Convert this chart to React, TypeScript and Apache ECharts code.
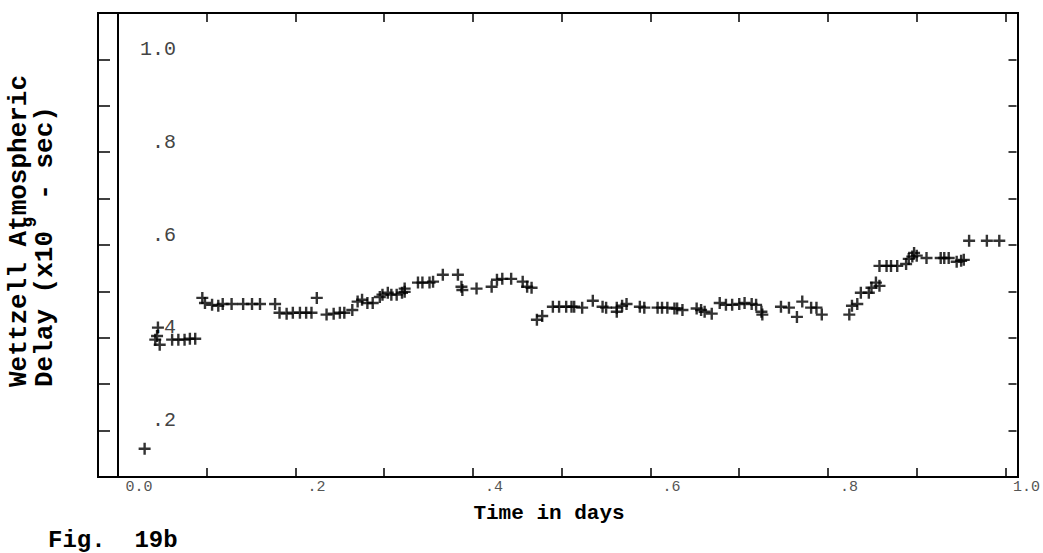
import React, { useEffect, useRef } from "react";
import * as echarts from "echarts";

// Time in days (x) and Wettzell atmospheric delay (x10^-9 sec) (y)
const timeDays = [
  0.030,
  0.042, 0.044, 0.045, 0.047,
  0.061, 0.068, 0.075, 0.081, 0.087,
  0.095, 0.098, 0.106, 0.113, 0.118, 0.128, 0.141, 0.151, 0.160, 0.177,
  0.182, 0.190, 0.197, 0.205, 0.212, 0.218,
  0.224,
  0.235, 0.243, 0.250, 0.255, 0.264,
  0.270, 0.275, 0.281, 0.287, 0.295, 0.298, 0.304, 0.308, 0.314, 0.320, 0.323, 0.323,
  0.338, 0.343, 0.351, 0.355, 0.366, 0.383, 0.387, 0.388, 0.404, 0.421, 0.427, 0.433, 0.443, 0.456, 0.461, 0.466,
  0.472, 0.478, 0.490, 0.497, 0.505, 0.511, 0.514, 0.523, 0.535, 0.546, 0.550, 0.562, 0.562, 0.568, 0.573,
  0.588, 0.593, 0.608, 0.613, 0.619, 0.627, 0.630, 0.636, 0.652, 0.657, 0.661, 0.669,
  0.678, 0.685, 0.692, 0.700, 0.706, 0.714, 0.719, 0.725, 0.726,
  0.747, 0.756, 0.765, 0.771, 0.781, 0.787, 0.793,
  0.824, 0.827, 0.833, 0.837, 0.846, 0.849, 0.854, 0.858, 0.858, 0.866, 0.871, 0.878,
  0.888, 0.891, 0.895, 0.897, 0.900, 0.911, 0.927, 0.931, 0.936, 0.945, 0.950, 0.953,
  0.959, 0.979, 0.993,
];
const delay = [
  0.161,
  0.396, 0.404, 0.422, 0.385,
  0.396, 0.396, 0.396, 0.398, 0.398,
  0.486, 0.475, 0.471, 0.469, 0.473, 0.473, 0.473, 0.473, 0.473, 0.473,
  0.454, 0.452, 0.454, 0.454, 0.454, 0.454,
  0.486,
  0.450, 0.452, 0.454, 0.454, 0.460,
  0.478, 0.482, 0.475, 0.475, 0.488, 0.493, 0.497, 0.493, 0.493, 0.497, 0.499, 0.506,
  0.519, 0.519, 0.519, 0.521, 0.536, 0.536, 0.510, 0.503, 0.506, 0.510, 0.525, 0.527, 0.527, 0.521, 0.510, 0.508,
  0.439, 0.447, 0.467, 0.467, 0.467, 0.467, 0.467, 0.465, 0.480, 0.467, 0.465, 0.465, 0.456, 0.469, 0.473,
  0.467, 0.465, 0.465, 0.465, 0.465, 0.463, 0.463, 0.460, 0.463, 0.460, 0.456, 0.452,
  0.475, 0.471, 0.471, 0.473, 0.475, 0.473, 0.471, 0.456, 0.450,
  0.467, 0.465, 0.445, 0.478, 0.465, 0.465, 0.450,
  0.450, 0.469, 0.473, 0.497, 0.497, 0.508, 0.519, 0.512, 0.555, 0.555, 0.555, 0.555,
  0.559, 0.570, 0.575, 0.583, 0.577, 0.572, 0.572, 0.572, 0.572, 0.564, 0.566, 0.568,
  0.609, 0.609, 0.609,
];

const xTickValues = [0, 0.2, 0.4, 0.6, 0.8, 1.0];
const xTickLabels = ["0.0", ".2", ".4", ".6", ".8", "1.0"];
const yTickValues = [0.2, 0.4, 0.6, 0.8, 1.0];
const yTickLabels = [".2", ".4", ".6", ".8", "1.0"];

const xTitle = "Time in days";
const yTitleLine1 = "Wettzell Atmospheric";
const yTitleLine2 = "Delay (x10  - sec)";
const yTitleExponent = "9";
const figLabel = "Fig.  19b";

const PLUS = "path://M4.8,0H7.2V4.8H12V7.2H7.2V12H4.8V7.2H0V4.8H4.8Z";
const MONO = '"Liberation Mono", "DejaVu Sans Mono", monospace';

function pick(values: number[], labels: string[], v: number) {
  const i = values.findIndex((t) => Math.abs(t - v) < 1e-6);
  return i >= 0 ? labels[i] : "";
}

export default function App() {
  const ref = useRef<HTMLDivElement>(null);
  useEffect(() => {
    if (!ref.current) return;
    const chart = echarts.init(ref.current, undefined, { renderer: "svg" });
    const points = timeDays.map((t, i) => [t, delay[i]]);
    chart.setOption({
      animation: false,
      backgroundColor: "#fff",
      grid: { left: 118, right: 36, top: 13, bottom: 76, show: false },
      xAxis: [
        {
          type: "value",
          position: "bottom",
          min: 0,
          max: 1,
          interval: 0.1,
          axisLine: { show: false, onZero: false },
          splitLine: { show: false },
          axisTick: { inside: true, length: 9, lineStyle: { color: "#000", width: 1.5 } },
          axisLabel: {
            margin: 3,
            fontFamily: MONO,
            fontSize: 15,
            color: "#555",
            padding: [0, 0, 0, 42],
            formatter: (v: number) => pick(xTickValues, xTickLabels, v),
          },
        },
        {
          type: "value",
          position: "top",
          min: 0,
          max: 1,
          interval: 0.1,
          axisLine: { show: false, onZero: false },
          splitLine: { show: false },
          axisTick: { inside: true, length: 9, lineStyle: { color: "#000", width: 1.5 } },
          axisLabel: { show: false },
        },
      ],
      yAxis: [
        {
          type: "value",
          position: "left",
          offset: 20,
          min: 0.1,
          max: 1.1,
          interval: 0.1,
          axisLine: { show: false, onZero: false },
          splitLine: { show: false },
          axisTick: { inside: true, length: 12, lineStyle: { color: "#000", width: 1.5 } },
          axisLabel: {
            inside: true,
            margin: 78,
            align: "right",
            verticalAlign: "bottom",
            fontFamily: MONO,
            fontSize: 20,
            color: "#444",
            formatter: (v: number) => pick(yTickValues, yTickLabels, v),
          },
        },
        {
          type: "value",
          position: "right",
          offset: 11,
          min: 0.1,
          max: 1.1,
          interval: 0.1,
          axisLine: { show: false, onZero: false },
          splitLine: { show: false },
          axisTick: { inside: true, length: 8, lineStyle: { color: "#000", width: 1.5 } },
          axisLabel: { show: false },
        },
      ],
      series: [
        {
          type: "scatter",
          xAxisIndex: 0,
          yAxisIndex: 0,
          data: points,
          symbol: PLUS,
          symbolSize: 12,
          itemStyle: { color: "#000" },
          markLine: {
            silent: true,
            symbol: ["none", "none"],
            label: { show: false },
            lineStyle: { color: "#000", width: 2, type: "solid" },
            data: [{ xAxis: 0 }],
          },
        },
      ],
      graphic: [
        {
          type: "rect",
          silent: true,
          z: 100,
          shape: { x: 98, y: 13, width: 920, height: 464 },
          style: { fill: "none", stroke: "#000", lineWidth: 2 },
        },
        {
          type: "text",
          x: 549,
          y: 513,
          style: { text: xTitle, font: `bold 21px ${MONO}`, fill: "#000", align: "center", verticalAlign: "middle" },
        },
        {
          type: "text",
          x: 48,
          y: 552,
          style: { text: figLabel, font: `bold 24px ${MONO}`, fill: "#000", align: "left", verticalAlign: "bottom" },
        },
        {
          type: "text",
          x: 19,
          y: 387,
          rotation: Math.PI / 2,
          style: { text: yTitleLine1, font: `bold 26px ${MONO}`, fill: "#000", align: "left", verticalAlign: "middle" },
        },
        {
          type: "text",
          x: 45,
          y: 387,
          rotation: Math.PI / 2,
          style: { text: yTitleLine2, font: `bold 26px ${MONO}`, fill: "#000", align: "left", verticalAlign: "middle" },
        },
        {
          type: "text",
          x: 31,
          y: 222,
          rotation: Math.PI / 2,
          style: { text: yTitleExponent, font: `bold 18px ${MONO}`, fill: "#000", align: "center", verticalAlign: "middle" },
        },
      ],
    });
    return () => chart.dispose();
  }, []);
  return (
    <div
      ref={ref}
      style={{ position: "fixed", left: 0, top: 0, width: 1043, height: 553, background: "#fff" }}
    />
  );
}
